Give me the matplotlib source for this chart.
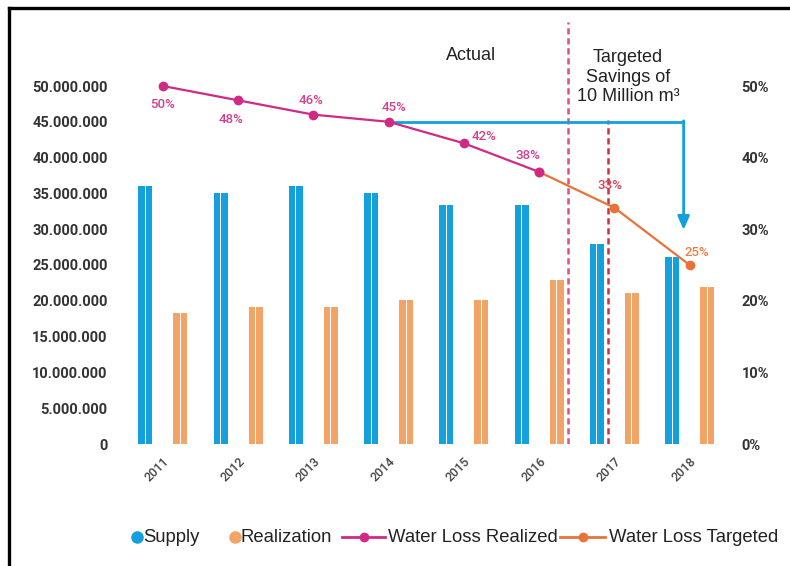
import numpy as np
import matplotlib
matplotlib.use("Agg")
import matplotlib.pyplot as plt
from matplotlib.lines import Line2D
import matplotlib.transforms as mtransforms

# data
years = ["2011", "2012", "2013", "2014", "2015", "2016", "2017", "2018"]
supply = [36.0e6, 35.0e6, 36.0e6, 35.0e6, 33.4e6, 33.4e6, 27.9e6, 26.1e6]
realization = [18.3e6, 19.1e6, 19.1e6, 20.1e6, 20.1e6, 22.9e6, 21.1e6, 21.9e6]
loss_realized = [0.50, 0.48, 0.46, 0.45, 0.42, 0.38]          # 2011-2016
loss_targeted = [0.38, 0.33, 0.25]                              # 2016-2018
left_ticks = np.arange(0, 50e6 + 1, 5e6)
right_ticks = np.arange(0, 0.51, 0.1)

BLUE = "#14a0dc"
ORANGE = "#f2a467"
MAGENTA = "#cf2a85"
LINE_ORANGE = "#e8733a"
TICK_COL = "#333333"

W, H = 790, 566
fig = plt.figure(figsize=(W / 100, H / 100), dpi=100)
ax = fig.add_axes([123 / W, 1 - 444 / H, (725 - 123) / W, (444 - 22) / H])
ax2 = ax.twinx()

x = np.arange(len(years))
top_val = 50e6 * 422 / 358
ax.set_ylim(0, top_val)
ax2.set_ylim(0, top_val / 1e8)
ax.set_xlim(-0.53, 7.47)

# each bar is drawn as two thin stripes with a white gap
off = 0.232
sw = 0.085
for sgn in (-1, 1):
    ax.bar(x - off + sgn * 0.05, supply, width=sw, color=BLUE, zorder=2)
    ax.bar(x + off + sgn * 0.05, realization, width=sw, color=ORANGE, zorder=2)

# dashed separators
ax.plot([5.38, 5.38], [0, top_val], ls=(0, (2.5, 1.5)), color="#e0507f", lw=1.8, zorder=3)
ax.plot([5.92, 5.92], [0, 45.2e6], ls=(0, (2.5, 1.5)), color="#c8323e", lw=1.8, zorder=3)

# loss lines
xr = x[:len(loss_realized)]
xt = x[len(loss_realized) - 1:]
ax2.plot(xt, loss_targeted, color=LINE_ORANGE, lw=1.6, marker="o", ms=6, zorder=4)
ax2.plot(xr, loss_realized, color=MAGENTA, lw=1.6, marker="o", ms=6, zorder=5)

# blue arrow from 2014 level down to 2018 target
y45 = loss_realized[3]
ax2.plot([x[3], 6.92], [y45, y45], color=BLUE, lw=2, zorder=3, solid_capstyle="butt")
ax2.annotate("", xy=(6.92, 0.299), xytext=(6.92, y45 + 0.0014),
             arrowprops=dict(arrowstyle="-|>,head_length=0.8,head_width=0.35",
                             color=BLUE, lw=2, shrinkA=0, shrinkB=0), zorder=3)

# value labels (offsets in pixels)
lab_font = dict(family="Roboto", fontsize=9.5, fontweight="medium")
real_off = [(0, -19), (-7, -19), (-2, 14), (5, 14), (20, 7), (-11, 16)]
for xi, v, (dx, dy) in zip(xr, loss_realized, real_off):
    ax2.annotate(f"{v:.0%}", (xi, v), xytext=(dx * 0.72, dy * 0.72), textcoords="offset points",
                 ha="center", va="center", color="#d2418f", **lab_font)
targ_cols = ["#d9445a", "#e8804a"]
targ_off = [(-4, 22), (7, 13)]
for xi, v, c, (dx, dy) in zip(xt[1:], loss_targeted[1:], targ_cols, targ_off):
    ax2.annotate(f"{v:.0%}", (xi, v), xytext=(dx * 0.72, dy * 0.72), textcoords="offset points",
                 ha="center", va="center", color=c, **lab_font)

# axes styling
tick_font = dict(family="Roboto", fontsize=10.5, fontweight="bold", color=TICK_COL)
ax.set_yticks(left_ticks)
ax.set_yticklabels([f"{int(t):,}".replace(",", ".") for t in left_ticks], **tick_font)
ax2.set_yticks(right_ticks)
ax2.set_yticklabels([f"{t:.0%}" for t in right_ticks], **tick_font)
ax.set_xticks(x)
ax.set_xticklabels(years, family="Roboto", fontsize=9, fontweight="medium", color="#444444",
                   rotation=45, ha="right", rotation_mode="anchor")
shift = mtransforms.ScaledTranslation(0.05, 0, fig.dpi_scale_trans)
for lbl in ax.get_xticklabels():
    lbl.set_transform(lbl.get_transform() + shift)
ax.tick_params(axis="y", length=0, pad=11)
ax2.tick_params(axis="y", length=0, pad=12)
ax.tick_params(axis="x", length=0, pad=8)
for a in (ax, ax2):
    for s in a.spines.values():
        s.set_visible(False)

# annotations
txt_font = dict(family="Liberation Sans", fontsize=13, color="#222222")
fig.text(471 / W, 1 - 55 / H, "Actual", ha="center", va="center", **txt_font)
fig.text(628 / W, 1 - 77 / H, "Targeted\nSavings of\n10 Million m³", ha="center", va="center",
         linespacing=1.22, **txt_font)

# legend row, laid out by hand
leg_y = 1 - 537 / H
leg_font = dict(family="Liberation Sans", fontsize=13.3, color="#222222")
names = ["Supply", "Realization", "Water Loss Realized", "Water Loss Targeted"]
for cx, col in [(137, BLUE), (235, ORANGE)]:
    fig.add_artist(Line2D([cx / W], [leg_y], ls="none", marker="o", ms=8, color=col,
                          transform=fig.transFigure))
for x0, x1, col in [(342, 385, MAGENTA), (560, 605, LINE_ORANGE)]:
    fig.add_artist(Line2D([x0 / W, x1 / W], [leg_y, leg_y], lw=2, color=col,
                          transform=fig.transFigure))
    fig.add_artist(Line2D([(x0 + x1) / 2 / W], [leg_y], ls="none", marker="o", ms=6, color=col,
                          transform=fig.transFigure))
for tx, name in zip([143, 241, 388, 609], names):
    fig.text(tx / W, leg_y, name, ha="left", va="center", **leg_font)

# frame lines on the left and top
fig.add_artist(Line2D([9 / W, 9 / W], [0, 1 - 8 / H], color="black", lw=2.4,
                      transform=fig.transFigure))
fig.add_artist(Line2D([9 / W, 1], [1 - 8 / H, 1 - 8 / H], color="black", lw=2.4,
                      transform=fig.transFigure))

fig.savefig("out.png", dpi=100)
